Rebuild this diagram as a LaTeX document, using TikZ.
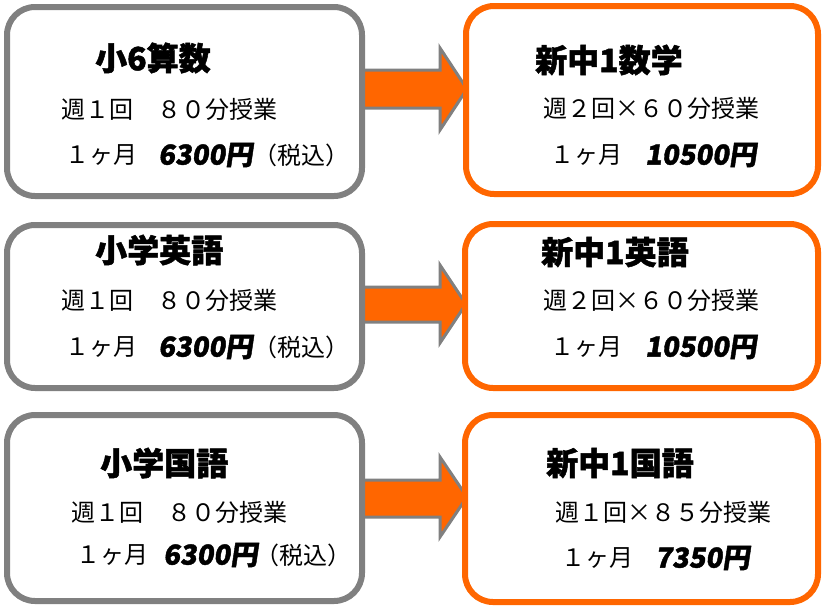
\documentclass[tikz,border=0pt]{standalone}
\usepackage{fontspec}
\setmainfont{Noto Sans CJK JP}
\newfontfamily\popfont{Noto Sans CJK JP}[FakeSlant=0.15, FakeBold=1.5]
\newfontfamily\heavyfont{Noto Sans CJK JP}[FakeBold=1.5]
\definecolor{og}{HTML}{FF6600}
\definecolor{gr}{HTML}{808080}
\tikzset{
  lbox/.style={draw=gr, line width=6pt, rounded corners=28pt, fill=white, inner sep=0pt},
  rbox/.style={draw=og, line width=6pt, rounded corners=28pt, fill=white, inner sep=0pt},
  ttl/.style={anchor=west, inner sep=0pt, font=\fontsize{32}{32}\selectfont\heavyfont\bfseries},
  body/.style={anchor=west, inner sep=0pt, font=\fontsize{24}{24}\selectfont},
  price/.style={anchor=west, inner sep=0pt, font=\fontsize{27.5}{28}\selectfont\popfont\bfseries},
  blockarrow/.style={draw=gr, line width=3pt, fill=og, line join=miter}
}
\begin{document}
\begin{tikzpicture}[x=1pt,y=-1pt]
\useasboundingbox (0,0) rectangle (824,608);
% arrows
\draw[blockarrow] (363,70) -- (440,70) -- (440,48) -- (467,89) -- (440,130) -- (440,108) -- (363,108) -- cycle;
\draw[blockarrow] (363,287) -- (440,287) -- (440,265) -- (466,304) -- (440,343) -- (440,322) -- (363,322) -- cycle;
\draw[blockarrow] (363,480) -- (440,480) -- (440,457) -- (467,497) -- (440,537) -- (440,517) -- (363,517) -- cycle;
% boxes
\node[lbox, minimum width=355pt, minimum height=189pt] (L1) at (184.5,101.5) {};
\node[rbox, minimum width=352pt, minimum height=188pt] (R1) at (642,100) {};
\node[lbox, minimum width=355pt, minimum height=163pt] (L2) at (184.5,306.5) {};
\node[rbox, minimum width=353pt, minimum height=164pt] (R2) at (641.5,306) {};
\node[lbox, minimum width=355pt, minimum height=186pt] (L3) at (184.5,508) {};
\node[rbox, minimum width=353pt, minimum height=187pt] (R3) at (641.5,508.5) {};
% box 1
\node[ttl] (t1) at (95,58) {小6算数};
\node[body] (a1) at (61,109) {週１回　８０分授業};
\node[body] (b1) at (65,155) {１ヶ月};
\node[price] (p1) at (158,155) {6300円};
\node[body] (c1) at (253,155) {（税込）};
% box R1
\node[ttl] (t2) at (535,60) {新中1数学};
\node[body] (a2) at (543,108) {週２回×６０分授業};
\node[body] (b2) at (550,155) {１ヶ月};
\node[price] (p2) at (645,155) {10500円};
% box L2
\node[ttl] (t3) at (95,250) {小学英語};
\node[body] (a3) at (61,300) {週１回　８０分授業};
\node[body] (b3) at (65,347) {１ヶ月};
\node[price] (p3) at (158,347) {6300円};
\node[body] (c3) at (253,347) {（税込）};
% box R2
\node[ttl] (t4) at (541,252) {新中1英語};
\node[body] (a4) at (543,300) {週２回×６０分授業};
\node[body] (b4) at (550,347) {１ヶ月};
\node[price] (p4) at (645,347) {10500円};
% box L3
\node[ttl] (t5) at (100,463) {小学国語};
\node[body] (a5) at (71,512) {週１回　８０分授業};
\node[body] (b5) at (76,555) {１ヶ月};
\node[price] (p5) at (163,555) {6300円};
\node[body] (c5) at (255,555) {（税込）};
% box R3
\node[ttl] (t6) at (546,463) {新中1国語};
\node[body] (a6) at (555,512) {週１回×８５分授業};
\node[body] (b6) at (561,558) {１ヶ月};
\node[price] (p6) at (655,558) {7350円};
\end{tikzpicture}
\end{document}
